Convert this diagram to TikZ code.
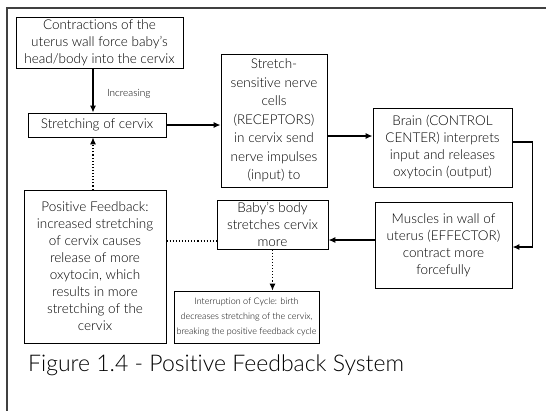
\documentclass[tikz,border=0pt]{standalone}
\usepackage{fontspec}
\setmainfont{Lato}[UprightFont=* Light,Ligatures=NoCommon]
\usetikzlibrary{arrows.meta,positioning,calc}

\begin{document}
\begin{tikzpicture}[x=1pt,y=-1pt,font=\fontsize{13.5}{17}\selectfont,
  box/.style={draw,line width=0.8pt,align=center,inner sep=0pt},
  arr/.style={line width=1.3pt,-{Latex[length=7pt,width=6pt]}},
  dots/.style={line width=1.1pt,dotted}]
  \useasboundingbox (0,0) rectangle (546,410);
  \draw[line width=1.2pt,black!75] (7,412) -- (7,8) -- (548,8);
  \node[box,minimum width=167,minimum height=51] (contr) at (99.5,42.5) {Contractions of the\\uterus wall force baby's\\head/body into the cervix};
  \node[box,minimum width=138,minimum height=24] (stretch) at (97,125) {Stretching of cervix};
  \node[box,minimum width=106,minimum height=133,font=\fontsize{13.5}{18.5}\selectfont] (recept) at (274,120.5) {Stretch-\\sensitive nerve\\cells\\(RECEPTORS)\\in cervix send\\nerve impulses\\(input) to};
  \node[box,minimum width=139,minimum height=79] (brain) at (442.5,147.5) {Brain (CONTROL\\CENTER) interprets\\input and releases\\oxytocin (output)};
  \node[box,minimum width=137,minimum height=86] (muscle) at (443.5,245) {Muscles in wall of\\uterus (EFFECTOR)\\contract more\\forcefully};
  \node[box,minimum width=111,minimum height=49] (baby) at (272.5,224.5) {Baby's body\\stretches cervix\\more};
  \node[box,minimum width=142,minimum height=153] (posfb) at (95,266.5) {Positive Feedback:\\increased stretching\\of cervix causes\\release of more\\oxytocin, which\\results in more\\stretching of the\\cervix};
  \node[box,minimum width=145,minimum height=52,font=\fontsize{9}{15}\selectfont] (interrupt) at (246.5,317) {Interruption of Cycle: birth\\decreases stretching of the cervix,\\breaking the positive feedback cycle};
  \node[anchor=west,inner sep=0pt,font=\fontsize{23}{27}\selectfont] (caption) at (28,365) {Figure 1.4 - Positive Feedback System};
  \node[anchor=west,inner sep=0pt,font=\fontsize{10}{12}\selectfont] (incr) at (107,94) {Increasing};
  \draw[arr] ([xshift=-6.5pt]contr.south) -- ([xshift=-4pt]stretch.north);
  \draw[arr] (stretch.east) -- (stretch.east -| recept.west);
  \draw[arr] (recept.east |- 0,136) -- ([yshift=11.5pt]brain.west);
  \draw[arr] ([yshift=5.5pt]brain.east) -| ([xshift=20pt,yshift=-2pt]muscle.east) -- ([yshift=-2pt]muscle.east);
  \draw[arr] ([yshift=5pt]muscle.west) -- (baby.east |- 0,240);
  \draw[dots] (posfb.east |- 0,241) -- (baby.west |- 0,241);
  \draw[dots,-{Latex[length=7pt,width=6pt]}] ([xshift=-2pt]posfb.north) -- ([xshift=-4pt]stretch.south);
  \draw[dots,-{Latex[length=7pt,width=6pt]}] (baby.south) -- (baby.south |- interrupt.north);
\end{tikzpicture}
\end{document}
